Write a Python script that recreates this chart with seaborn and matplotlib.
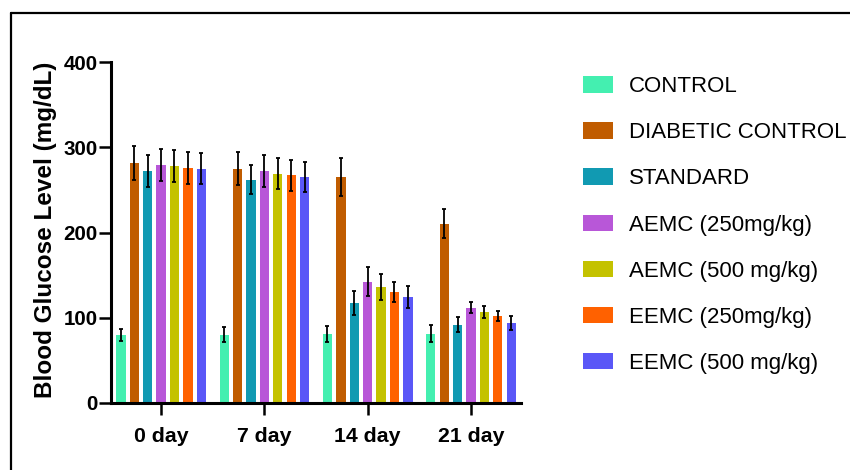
"""Blood glucose levels per treatment group over 21 days."""

import matplotlib

matplotlib.use("Agg")

import matplotlib.pyplot as plt
import pandas as pd
import seaborn as sns
from matplotlib import font_manager
from matplotlib.lines import Line2D
from matplotlib.patches import Patch


days = ["0 day", "7 day", "14 day", "21 day"]
groups = [
    "CONTROL",
    "DIABETIC CONTROL",
    "STANDARD",
    "AEMC (250mg/kg)",
    "AEMC (500 mg/kg)",
    "EEMC (250mg/kg)",
    "EEMC (500 mg/kg)",
]
colors = ["#44EFB0", "#C05C00", "#119AB2", "#B857D8", "#C4C200", "#FF6100", "#5A57F7"]

# mean glucose (mg/dL), one value per day
control = [80, 80, 81, 81]
diabetic = [282, 275, 265, 210]
standard = [272, 262, 117, 92]
aemc_250 = [279, 272, 142, 112]
aemc_500 = [278, 269, 136, 107]
eemc_250 = [276, 267, 130, 102]
eemc_500 = [275, 265, 124, 94]

# error bar half-lengths
control_sd = [7, 9, 9, 10]
diabetic_sd = [20, 19, 22, 17]
standard_sd = [19, 17, 14, 9]
aemc_250_sd = [19, 19, 17, 7]
aemc_500_sd = [19, 18, 15, 7]
eemc_250_sd = [19, 18, 12, 6]
eemc_500_sd = [18, 18, 13, 8]

means = [control, diabetic, standard, aemc_250, aemc_500, eemc_250, eemc_500]
sds = [control_sd, diabetic_sd, standard_sd, aemc_250_sd, aemc_500_sd, eemc_250_sd, eemc_500_sd]

rows = []
for group, values in zip(groups, means):
    for day, value in zip(days, values):
        rows.append({"day": day, "group": group, "glucose": value})
data = pd.DataFrame(rows)

sns.set_style("ticks")
installed = {f.name for f in font_manager.fontManager.ttflist}
if "Liberation Sans Narrow" in installed:
    text_family = ["Liberation Sans Narrow", "Liberation Sans", "DejaVu Sans"]
    ytick_size, xtick_size, legend_size = 17, 18, 19
else:
    text_family = ["Liberation Sans", "DejaVu Sans"]
    ytick_size, xtick_size, legend_size = 14.8, 15.3, 16
plt.rcParams["font.family"] = text_family
plt.rcParams["text.color"] = "black"
plt.rcParams["axes.labelcolor"] = "black"
plt.rcParams["xtick.color"] = "black"
plt.rcParams["ytick.color"] = "black"

fig = plt.figure(figsize=(8.5, 4.7), dpi=100)
ax = fig.add_axes([111.5 / 850, 1 - 403 / 470, 409.5 / 850, 341 / 470])

sns.barplot(
    data=data,
    x="day",
    y="glucose",
    hue="group",
    hue_order=groups,
    order=days,
    palette=colors,
    saturation=1,
    width=0.908,
    gap=0.3,
    errorbar=None,
    linewidth=0,
    legend=False,
    ax=ax,
)

for bars, sd in zip(ax.containers, sds):
    xs = [b.get_x() + b.get_width() / 2 for b in bars]
    ys = [b.get_height() for b in bars]
    ax.errorbar(
        xs, ys, yerr=sd, fmt="none", ecolor="black",
        elinewidth=1.3, capsize=1.5, capthick=1.3, zorder=3,
    )

ax.set_xlim(-0.48, 3.484)
ax.set_ylim(0, 400)
ax.set_yticks([0, 100, 200, 300, 400])
sns.despine(ax=ax)
for side in ["left", "bottom"]:
    ax.spines[side].set_linewidth(2.2)
    ax.spines[side].set_color("black")
ax.tick_params(axis="both", width=1.8, length=8.5, color="black", labelcolor="black")
ax.tick_params(axis="y", pad=1.5)
ax.tick_params(axis="x", pad=9)
for label in ax.get_yticklabels():
    label.set_fontsize(ytick_size)
    label.set_fontweight("bold")
for label in ax.get_xticklabels():
    label.set_fontsize(xtick_size)
    label.set_fontweight("bold")

ax.set_xlabel("")
ax.set_ylabel(
    "Blood Glucose Level (mg/dL)", fontsize=17.5, fontweight="bold",
    family=["Liberation Sans", "DejaVu Sans"], color="black",
)
ax.yaxis.set_label_coords(-0.133, 0.509)

px = legend_size * 100 / 72
handles = [Patch(facecolor=c, edgecolor="none", label=g) for g, c in zip(groups, colors)]
fig.legend(
    handles=handles,
    loc="center left",
    bbox_to_anchor=(582.7 / 850, 1 - 225 / 470),
    frameon=False,
    fontsize=legend_size,
    labelcolor="black",
    handlelength=30 / px,
    handleheight=17 / px,
    handletextpad=16 / px,
    labelspacing=(46.2 - 0.95 * px) / px,
    borderpad=0,
    borderaxespad=0,
)

# partial frame around the figure (left and top edges only)
fig.add_artist(Line2D([11.3 / 850, 11.3 / 850], [0, 1 - 13 / 470], color="black", lw=1.6))
fig.add_artist(Line2D([11.3 / 850, 1], [1 - 13 / 470, 1 - 13 / 470], color="black", lw=1.6))

fig.savefig("out.png", dpi=100)
plt.close(fig)
